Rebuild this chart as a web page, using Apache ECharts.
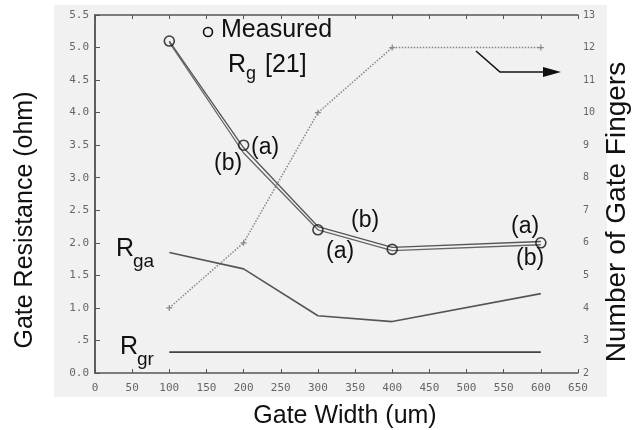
<!DOCTYPE html>
<html>
<head>
<meta charset="utf-8">
<script src="https://cdn.jsdelivr.net/npm/echarts@6/dist/echarts.min.js"></script>
<style>
html, body { margin: 0; padding: 0; background: #fff; }
#main { width: 632px; height: 430px; }
</style>
</head>
<body>
<div id="main"></div>
<script>
// gate width (um)
var widths = [100, 200, 300, 400, 600];
// measured Rg [21]
var rgMeasured = [5.1, 3.5, 2.2, 1.9, 2.0];
// model curves (a) and (b)
var rgModelA = [5.1, 3.46, 2.25, 1.93, 2.02];
var rgModelB = [5.08, 3.38, 2.2, 1.88, 1.97];
// Rga and Rgr components
var rga = [1.85, 1.6, 0.88, 0.79, 1.22];
var rgr = [0.32, 0.32, 0.32, 0.32, 0.32];
// number of gate fingers (right axis)
var fingers = [4, 6, 10, 12, 12];

function pairs(ys) {
    return widths.map(function (w, i) { return [w, ys[i]]; });
}

var tickFont = { fontFamily: 'DejaVu Sans Mono', fontSize: 11, color: '#666' };
var txt = function (s, size) {
    return { text: s, font: size + 'px Liberation Sans', fill: '#111' };
};

var myChart = echarts.init(document.getElementById('main'));

var option = {
    animation: false,
    backgroundColor: '#fff',
    grid: { left: 95, right: 54, top: 15, bottom: 57 },
    xAxis: [
        {
            type: 'value', min: 0, max: 650, interval: 50,
            axisLine: { lineStyle: { color: '#555', width: 1.5 } },
            axisTick: { inside: true, length: 4, lineStyle: { color: '#555' } },
            axisLabel: Object.assign({ margin: 10 }, tickFont),
            splitLine: { show: false }
        },
        {
            type: 'value', position: 'top', min: 0, max: 650, interval: 50,
            axisLine: { lineStyle: { color: '#555', width: 1.5 } },
            axisTick: { inside: true, length: 4, lineStyle: { color: '#555' } },
            axisLabel: { show: false },
            splitLine: { show: false }
        }
    ],
    yAxis: [
        {
            type: 'value', min: 0, max: 5.5, interval: 0.5,
            axisLine: { show: true, lineStyle: { color: '#555', width: 1.5 } },
            axisTick: { show: true, inside: true, length: 5, lineStyle: { color: '#555' } },
            axisLabel: Object.assign({
                margin: 6,
                formatter: function (v) {
                    if (v === 0) return '0.0';
                    if (v === 0.5) return '.5';
                    return v.toFixed(1);
                }
            }, tickFont),
            splitLine: { show: false }
        },
        {
            type: 'value', min: 2, max: 13, interval: 1,
            axisLine: { show: true, lineStyle: { color: '#555', width: 1.5 } },
            axisTick: { show: true, length: 3, lineStyle: { color: '#555' } },
            axisLabel: { margin: 5, fontFamily: 'DejaVu Sans Mono', fontSize: 10, color: '#666' },
            splitLine: { show: false }
        }
    ],
    series: [
        {
            name: 'fingers', type: 'line', yAxisIndex: 1,
            data: pairs(fingers),
            symbol: 'path://M4,0H6V4H10V6H6V10H4V6H0V4H4Z', symbolSize: 6,
            itemStyle: { color: '#888' },
            lineStyle: { color: '#888', width: 1.5, type: 'dotted' },
            z: 2
        },
        {
            name: 'Rga', type: 'line', data: pairs(rga), symbol: 'none',
            lineStyle: { color: '#555', width: 1.6 }
        },
        {
            name: 'Rgr', type: 'line', data: pairs(rgr), symbol: 'none',
            lineStyle: { color: '#444', width: 1.6 }
        },
        {
            name: '(a)', type: 'line', data: pairs(rgModelA), symbol: 'none',
            lineStyle: { color: '#555', width: 1.3 }
        },
        {
            name: '(b)', type: 'line', data: pairs(rgModelB), symbol: 'none',
            lineStyle: { color: '#666', width: 1.3 }
        },
        {
            name: 'Measured', type: 'scatter', data: pairs(rgMeasured),
            symbol: 'circle', symbolSize: 10,
            itemStyle: { color: 'rgba(0,0,0,0)', borderColor: '#111', borderWidth: 1.6 },
            z: 5
        }
    ],
    graphic: [
        {
            type: 'rect', z: -100, silent: true,
            shape: { x: 54, y: 5, width: 553, height: 392 },
            style: { fill: '#f1f1f1' }
        },
        // axis titles
        {
            type: 'text', x: 25, y: 220, rotation: Math.PI / 2,
            style: Object.assign(txt('Gate Resistance (ohm)', 25), { align: 'center', verticalAlign: 'middle' })
        },
        {
            type: 'text', x: 617, y: 212, rotation: Math.PI / 2,
            style: Object.assign(txt('Number of Gate Fingers', 28), { align: 'center', verticalAlign: 'middle' })
        },
        {
            type: 'text', x: 345, y: 416,
            style: Object.assign(txt('Gate Width (um)', 25), { align: 'center', verticalAlign: 'middle' })
        },
        // legend marker for measured data
        {
            type: 'circle', shape: { cx: 208, cy: 32, r: 4.5 },
            style: { fill: 'none', stroke: '#111', lineWidth: 1.6 }, z: 10
        },
        { type: 'text', left: 221, top: 18, style: txt('Measured', 25) },
        { type: 'text', left: 228, top: 53, style: txt('R', 25) },
        { type: 'text', left: 246, top: 65, style: txt('g', 18) },
        { type: 'text', left: 258, top: 53, style: txt(' [21]', 25) },
        // curve labels
        { type: 'text', left: 251, top: 136, style: txt('(a)', 23) },
        { type: 'text', left: 214, top: 152, style: txt('(b)', 23) },
        { type: 'text', left: 351, top: 209, style: txt('(b)', 23) },
        { type: 'text', left: 326, top: 240, style: txt('(a)', 23) },
        { type: 'text', left: 511, top: 215, style: txt('(a)', 23) },
        { type: 'text', left: 516, top: 247, style: txt('(b)', 23) },
        // component labels
        { type: 'text', left: 116, top: 237, style: txt('R', 25) },
        { type: 'text', left: 133, top: 252, style: txt('ga', 19) },
        { type: 'text', left: 120, top: 335, style: txt('R', 25) },
        { type: 'text', left: 137, top: 350, style: txt('gr', 19) },
        // arrow pointing to right axis
        {
            type: 'polyline', shape: { points: [[476, 51], [500, 72], [545, 72]] },
            style: { stroke: '#111', lineWidth: 1.6, fill: 'none' }, z: 10
        },
        {
            type: 'polygon', shape: { points: [[543, 67], [561, 72], [543, 77]] },
            style: { fill: '#111' }, z: 10
        }
    ]
};

myChart.setOption(option);
</script>
</body>
</html>
